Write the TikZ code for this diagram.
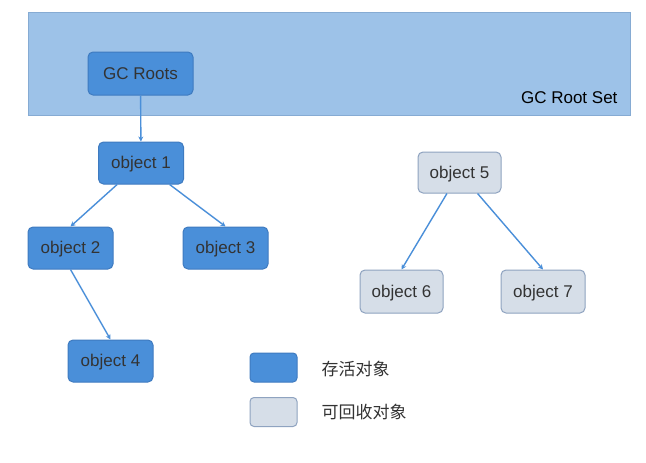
\documentclass[tikz,border=0pt]{standalone}
\usepackage{fontspec}
\setmainfont{Liberation Sans}
\newfontfamily\cjk{Noto Sans CJK SC}
\usepackage{tikz}
\usetikzlibrary{arrows.meta,positioning}
\definecolor{liveblue}{HTML}{4A8FD9}
\definecolor{liveedge}{HTML}{3F7BC0}
\definecolor{setblue}{HTML}{9DC2E8}
\definecolor{setedge}{HTML}{86ABD3}
\definecolor{deadgray}{HTML}{D6DEE8}
\definecolor{deadedge}{HTML}{8FA3C0}
\definecolor{txtgray}{HTML}{333333}
\tikzset{
  objnode/.style={rectangle,rounded corners=5pt,draw,line width=1pt,minimum width=85pt,
    minimum height=42pt,inner sep=2pt,text height=12pt,text depth=1pt,
    font=\fontsize{17}{20}\selectfont,text=txtgray},
  livenode/.style={objnode,fill=liveblue,draw=liveedge},
  deadnode/.style={objnode,fill=deadgray,draw=deadedge},
  keybox/.style={rectangle,rounded corners=4pt,draw,line width=1pt,minimum width=47pt,minimum height=29pt},
  refedge/.style={-{Stealth[length=5pt,width=5pt]},line width=1.4pt,liveblue},
}

\begin{document}
\begin{tikzpicture}[x=1pt,y=-1pt]
  \path[use as bounding box,fill=white] (0,0) rectangle (646,463);
  \node[rectangle,draw=setedge,fill=setblue,line width=1pt,minimum width=602pt,minimum height=103pt,
    inner sep=0pt] (rootset) at (329,63.5) {};
  \node[anchor=east,font=\fontsize{17}{20}\selectfont,text=black] (setlabel) at (621,98) {GC Root Set};
  \node[livenode,minimum width=105pt,minimum height=43pt] (nroots) at (140.5,73.5) {GC Roots};
  \node[livenode] (nobj1) at (141,163) {object 1};
  \node[livenode] (nobj2) at (70.5,248) {object 2};
  \node[livenode] (nobj3) at (225.5,248) {object 3};
  \node[livenode] (nobj4) at (110.5,361) {object 4};
  \node[deadnode,minimum width=83pt,minimum height=41pt] (nobj5) at (459.5,172.5) {object 5};
  \node[deadnode,minimum width=83pt,minimum height=43pt] (nobj6) at (401.5,291.5) {object 6};
  \node[deadnode,minimum width=84pt,minimum height=43pt] (nobj7) at (543,291.5) {object 7};
  \draw[refedge] (nroots) -- (nobj1);
  \draw[refedge] (nobj1) -- (nobj2.north);
  \draw[refedge] (nobj1) -- (nobj3.north);
  \draw[refedge] (nobj2.south) -- (nobj4.north);
  \draw[refedge] (nobj5) -- (nobj6.north);
  \draw[refedge] (nobj5) -- (nobj7.north);
  \node[keybox,fill=liveblue,draw=liveedge] (keylive) at (273.5,367.5) {};
  \node[keybox,fill=deadgray,draw=deadedge] (keydead) at (273.5,412) {};
  \node[anchor=west,font=\cjk\fontsize{17}{20}\selectfont,text=txtgray] (livetext) at (318,369) {存活对象};
  \node[anchor=west,font=\cjk\fontsize{17}{20}\selectfont,text=txtgray] (deadtext) at (318,412) {可回收对象};
\end{tikzpicture}
\end{document}
